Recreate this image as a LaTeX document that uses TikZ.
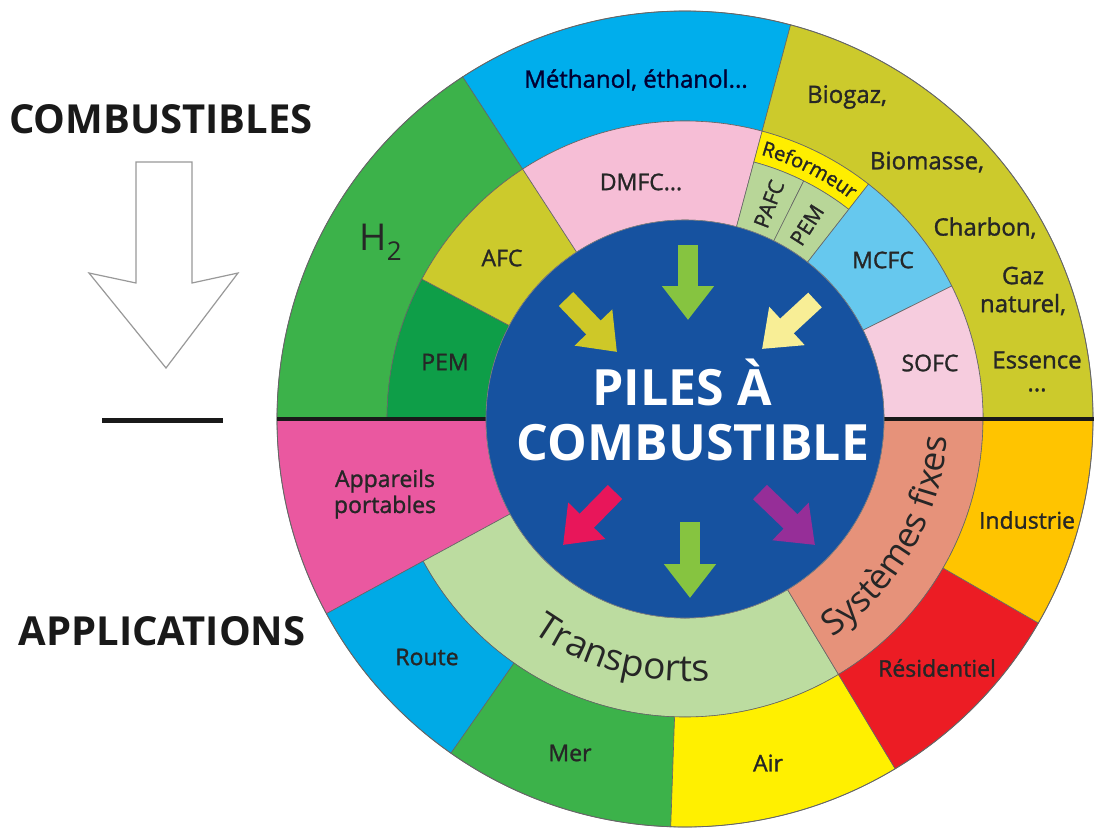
\documentclass[tikz,border=0pt]{standalone}
\usepackage{fontspec}
\setmainfont{Open Sans}
\newfontfamily\semibf{Open Sans}[FakeBold=1.3]
\usetikzlibrary{arrows.meta,decorations.text}

\definecolor{hgreen}{RGB}{60,178,74}
\definecolor{pemgreen}{RGB}{14,158,72}
\definecolor{olive}{RGB}{204,202,44}
\definecolor{skyblue}{RGB}{0,174,236}
\definecolor{dmfcpink}{RGB}{246,190,214}
\definecolor{refyellow}{RGB}{255,238,0}
\definecolor{palegreen}{RGB}{184,214,152}
\definecolor{mcfcblue}{RGB}{102,200,238}
\definecolor{sofcpink}{RGB}{246,204,222}
\definecolor{coreblue}{RGB}{22,82,160}
\definecolor{portpink}{RGB}{234,88,160}
\definecolor{transgreen}{RGB}{188,220,160}
\definecolor{salmon}{RGB}{230,146,122}
\definecolor{routeblue}{RGB}{0,170,230}
\definecolor{airyellow}{RGB}{255,240,0}
\definecolor{resred}{RGB}{236,28,36}
\definecolor{indorange}{RGB}{255,196,0}
\definecolor{arrgreen}{RGB}{134,196,64}
\definecolor{arrolive}{RGB}{206,200,40}
\definecolor{arrpale}{RGB}{248,238,150}
\definecolor{arrred}{RGB}{232,22,90}
\definecolor{arrpurple}{RGB}{150,46,152}

\newcommand{\ringpart}[5]{%
  \filldraw[fill=#1, draw=black!60, line width=0.6pt] (#4:#2pt) arc[start angle=#4, end angle=#5, radius=#2pt]
    -- (#5:#3pt) arc[start angle=#5, end angle=#4, radius=#3pt] -- cycle;}

\tikzset{
  lbl/.style={font=\fontsize{23}{26}\selectfont\semibf, text=black!85, align=center, inner sep=0pt},
  bigcap/.style={font=\fontsize{40}{44}\selectfont\bfseries, text=black!90, anchor=base},
  fatarrow/.style={line width=20pt, -{Triangle[width=50pt,length=34pt]}},
}

\begin{document}
\begin{tikzpicture}[x=1pt, y=1pt]
\useasboundingbox (0,0) rectangle (1094,-830);
\fill[white] (0,0) rectangle (1094,-830);

\node[bigcap] (fuels) at (161,-133) {COMBUSTIBLES};
\node[bigcap] (apps) at (162,-645) {APPLICATIONS};
\filldraw[fill=white, draw=black!40, line width=1.2pt]
  (136,-162) -- (192,-162) -- (192,-283) -- (238,-273) -- (166,-368)
  -- (89,-273) -- (136,-283) -- cycle;
\draw[line width=5pt, black!90] (102,-420) -- (223,-420);

\begin{scope}[shift={(685,-419)}]
  \ringpart{hgreen}{298}{408}{123}{180}
  \ringpart{skyblue}{298}{408}{75}{123}
  \ringpart{olive}{298}{408}{0}{75}
  \ringpart{pemgreen}{199}{298}{152}{180}
  \ringpart{olive}{199}{298}{123}{152}
  \ringpart{dmfcpink}{199}{298}{75}{123}
  \ringpart{refyellow}{266}{298}{52}{75}
  \ringpart{palegreen}{199}{266}{63.5}{75}
  \ringpart{palegreen}{199}{266}{52}{63.5}
  \ringpart{mcfcblue}{199}{298}{26.5}{52}
  \ringpart{sofcpink}{199}{298}{0}{26.5}
  \ringpart{portpink}{199}{408}{180}{208.5}
  \ringpart{transgreen}{199}{298}{208.5}{301}
  \ringpart{salmon}{199}{298}{301}{360}
  \ringpart{routeblue}{298}{408}{208.5}{235}
  \ringpart{hgreen}{298}{408}{235}{268}
  \ringpart{airyellow}{298}{408}{268}{301}
  \ringpart{resred}{298}{408}{301}{330}
  \ringpart{indorange}{298}{408}{330}{360}
  \draw[black!60, line width=0.8pt] (0,0) circle[radius=408pt];
  \draw[line width=4pt, black!90] (180:408pt) -- (0:409pt);
  \node[circle, fill=coreblue, draw=black!50, line width=0.6pt, minimum size=398pt, inner sep=0pt] (core) at (0,0) {};

  \path[decorate, decoration={text along path, text align=center,
    text={|\fontsize{20}{24}\selectfont\semibf\color{black!85}|Reformeur}}]
    (76:275pt) arc[start angle=76, end angle=51, radius=275pt];
  \path[decorate, decoration={text along path, text align=center,
    text={|\fontsize{37}{42}\selectfont\color{black!85}|Transports}}]
    (215:262pt) arc[start angle=215, end angle=295, radius=262pt];
  \path[decorate, decoration={text along path, text align=center,
    text={|\fontsize{35}{40}\selectfont\color{black!85}|Systèmes fixes}}]
    (290:263pt) arc[start angle=290, end angle=370, radius=263pt];
\end{scope}

\node[lbl, font=\fontsize{24}{28}\selectfont\semibf, text=black!80!blue] (meth) at (636,-80) {Méthanol, éthanol...};
\node[lbl, font=\fontsize{37}{42}\selectfont] (h2) at (381,-242) {H\textsubscript{2}};
\node[lbl] (afc) at (502,-258) {AFC};
\node[lbl] (pem1) at (445,-362) {PEM};
\node[lbl] (dmfc) at (641,-182) {DMFC...};
\node[lbl, font=\fontsize{21}{24}\selectfont\semibf, rotate=69] (pafc) at (769,-204) {PAFC};
\node[lbl, font=\fontsize{21}{24}\selectfont\semibf, rotate=57.5] (pem2) at (807,-225) {PEM};
\node[lbl] (mcfc) at (883,-260) {MCFC};
\node[lbl] (sofc) at (930,-363) {SOFC};
\node[lbl, font=\fontsize{24}{28}\selectfont\semibf] (biogaz) at (847,-97) {Biogaz,};
\node[lbl, font=\fontsize{24}{28}\selectfont\semibf] (biomasse) at (927,-162) {Biomasse,};
\node[lbl, font=\fontsize{24}{28}\selectfont\semibf] (charbon) at (985,-228) {Charbon,};
\node[lbl, font=\fontsize{24}{28}\selectfont\semibf] (gaz) at (1023,-291) {Gaz\\naturel,};
\node[lbl, font=\fontsize{24}{28}\selectfont\semibf] (essence) at (1037,-360) {Essence};
\node[lbl, font=\fontsize{24}{28}\selectfont\semibf] (etc) at (1037,-390) {...};
\node[lbl] (port) at (385,-494) {Appareils\\portables};
\node[lbl] (route) at (427,-657) {Route};
\node[lbl] (mer) at (570,-753) {Mer};
\node[lbl] (air) at (768,-763) {Air};
\node[lbl] (resid) at (937,-668) {Résidentiel};
\node[lbl] (indus) at (1027,-520) {Industrie};

\node[font=\fontsize{50}{55}\selectfont\bfseries, text=white, anchor=base] (piles) at (682,-405) {PILES À};
\node[font=\fontsize{50}{55}\selectfont\bfseries, text=white, anchor=base] (combu) at (693,-460) {COMBUSTIBLE};

\coordinate (t1) at (688,-245); \coordinate (h1) at (688,-320);
\coordinate (t2) at (566,-299); \coordinate (h2a) at (617,-352);
\coordinate (t3) at (815,-300); \coordinate (h3) at (762,-349);
\coordinate (t4) at (615,-492); \coordinate (h4) at (563,-545);
\coordinate (t5) at (690,-522); \coordinate (h5) at (690,-598);
\coordinate (t6) at (760,-492); \coordinate (h6) at (815,-545);
\draw[fatarrow, arrgreen] (t1) -- (h1);
\draw[fatarrow, arrolive] (t2) -- (h2a);
\draw[fatarrow, arrpale] (t3) -- (h3);
\draw[fatarrow, arrred] (t4) -- (h4);
\draw[fatarrow, arrgreen] (t5) -- (h5);
\draw[fatarrow, arrpurple] (t6) -- (h6);
\end{tikzpicture}
\end{document}
